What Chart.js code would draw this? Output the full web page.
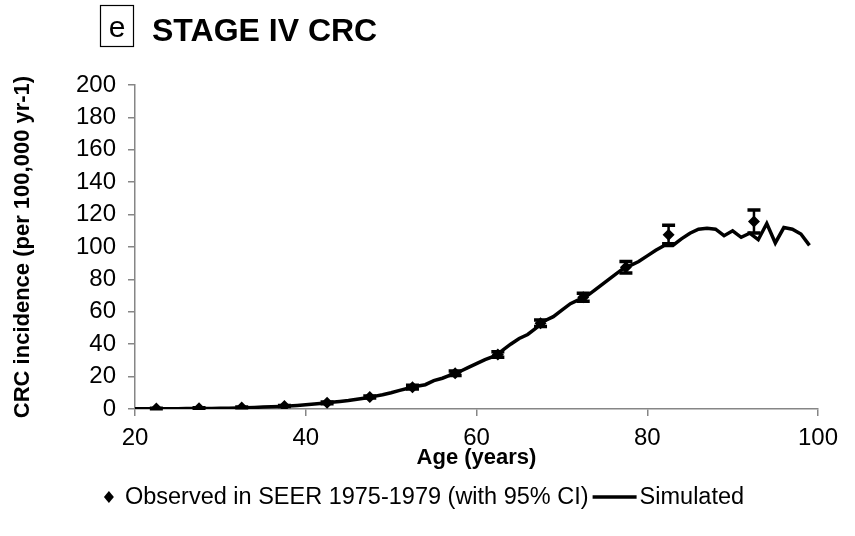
<!DOCTYPE html>
<html>
<head>
<meta charset="utf-8">
<script src="https://cdn.jsdelivr.net/npm/chart.js@4.4.1/dist/chart.umd.min.js"></script>
<style>
  html, body { margin: 0; padding: 0; background: #ffffff; }
  #wrap { width: 855px; height: 536px; position: relative; }
</style>
</head>
<body>
<div id="wrap"><canvas id="c" width="855" height="536"></canvas></div>
<script>
// ---- data ----
const simAges = [20,21,22,23,24,25,26,27,28,29,30,31,32,33,34,35,36,37,38,39,40,41,42,43,44,45,46,47,48,49,50,51,52,53,54,55,56,57,58,59,60,61,62,63,64,65,66,67,68,69,70,71,72,73,74,75,76,77,78,79,80,81,82,83,84,85,86,87,88,89,90,91,92,93,94,95,96,97,98,99];
const simValues = [0.1,0.1,0.1,0.2,0.2,0.2,0.3,0.3,0.3,0.3,0.4,0.5,0.6,0.8,1.0,1.2,1.4,1.6,1.9,2.2,2.6,3.1,3.6,4.1,4.6,5.2,6.0,6.8,7.8,8.8,10,11.5,12.8,14,15,17.5,19,21,23,25.5,28,30.5,32.5,36,40,43.5,46,50,54.5,57,61,65,67.5,70,74,78,82,86,88.5,91,94.5,98,101,101,105,108.5,111,111.5,111,107,110,106,108.5,104.5,114.5,102.5,112,111,108,101];

const obsAges = [22.5,27.5,32.5,37.5,42.5,47.5,52.5,57.5,62.5,67.5,72.5,77.5,82.5,92.5];
const obsValues = [0.3,0.5,1.0,1.8,3.8,7.4,13.5,22,33.6,53,69,87.5,107.5,115.8];
const obsLower = [0.2,0.4,0.8,1.5,3.3,6.8,12.4,20.7,32,51,66.5,84,102,108.6];
const obsUpper = [0.4,0.7,1.2,2.1,4.3,8.1,14.6,23.4,35.3,55,71.5,91,113.5,122.8];

const xTicks = [20,40,60,80,100];
const yTicks = [0,20,40,60,80,100,120,140,160,180,200];

const panelLetter = 'e';
const chartTitle = 'STAGE IV CRC';
const xTitle = 'Age (years)';
const yTitle = 'CRC incidence (per 100,000 yr-1)';
const obsLabel = 'Observed in SEER 1975-1979 (with 95% CI)';
const simLabel = 'Simulated';

// ---- build ----
const FONT = "'Liberation Sans', Arial, Helvetica, sans-serif";
const AXIS_GRAY = '#868686';

const simData = simAges.map((a, i) => ({ x: a, y: simValues[i] }));
const obsData = obsAges.map((a, i) => ({ x: a, y: obsValues[i], lo: obsLower[i], hi: obsUpper[i] }));

const errorBars = {
  id: 'errorBars',
  afterDatasetsDraw(chart) {
    const xs = chart.scales.x, ys = chart.scales.y;
    const ctx = chart.ctx;
    ctx.save();
    ctx.strokeStyle = '#000';
    ctx.lineCap = 'butt';
    obsData.forEach((d) => {
      const px = xs.getPixelForValue(d.x);
      const pLo = ys.getPixelForValue(d.lo);
      const pHi = ys.getPixelForValue(d.hi);
      ctx.lineWidth = 2.5;
      ctx.beginPath();
      ctx.moveTo(px, pLo); ctx.lineTo(px, pHi);
      ctx.stroke();
      ctx.lineWidth = 3.5;
      ctx.beginPath();
      ctx.moveTo(px - 6.5, pLo); ctx.lineTo(px + 6.5, pLo);
      ctx.moveTo(px - 6.5, pHi); ctx.lineTo(px + 6.5, pHi);
      ctx.stroke();
    });
    ctx.restore();
  }
};

const decorations = {
  id: 'decorations',
  afterDraw(chart) {
    const ctx = chart.ctx;
    ctx.save();
    // panel letter box
    ctx.strokeStyle = '#000';
    ctx.lineWidth = 1.2;
    ctx.strokeRect(100.5, 5.5, 33, 41);
    ctx.fillStyle = '#000';
    ctx.font = '30px ' + FONT;
    ctx.textAlign = 'center';
    ctx.textBaseline = 'alphabetic';
    ctx.fillText(panelLetter, 117, 37);
    // title
    ctx.font = 'bold 32px ' + FONT;
    ctx.textAlign = 'left';
    ctx.fillText(chartTitle, 152, 41);

    // legend
    ctx.font = '23.5px ' + FONT;
    const w1 = ctx.measureText(obsLabel).width;
    const w2 = ctx.measureText(simLabel).width;
    const markerW = 12, gap1 = 10, gap2 = 4, lineLen = 44, gap3 = 3;
    const total = markerW + gap1 + w1 + gap2 + lineLen + gap3 + w2;
    let x = (855 - total) / 2 - 4;
    const y = 497;
    // diamond
    const cx = x + markerW / 2;
    ctx.beginPath();
    ctx.moveTo(cx, y - 6); ctx.lineTo(cx + 5, y); ctx.lineTo(cx, y + 6); ctx.lineTo(cx - 5, y);
    ctx.closePath(); ctx.fill();
    x += markerW + gap1;
    ctx.textBaseline = 'middle';
    ctx.fillText(obsLabel, x, y + 1);
    x += w1 + gap2;
    ctx.lineWidth = 3.5;
    ctx.beginPath(); ctx.moveTo(x, y); ctx.lineTo(x + lineLen, y); ctx.stroke();
    x += lineLen + gap3;
    ctx.fillText(simLabel, x, y + 1);
    ctx.restore();
  }
};

new Chart(document.getElementById('c'), {
  type: 'scatter',
  data: {
    datasets: [
      {
        type: 'line',
        label: simLabel,
        data: simData,
        borderColor: '#000',
        borderWidth: 3.5,
        pointRadius: 0,
        tension: 0,
        fill: false,
        order: 2
      },
      {
        type: 'scatter',
        label: obsLabel,
        data: obsData,
        pointStyle: 'rectRot',
        pointRadius: 6,
        backgroundColor: '#000',
        borderColor: '#000',
        borderWidth: 0,
        order: 1
      }
    ]
  },
  options: {
    responsive: false,
    animation: false,
    devicePixelRatio: 1,
    layout: { padding: { left: 0, right: 37, top: 85, bottom: 0 } },
    plugins: { legend: { display: false }, tooltip: { enabled: false }, title: { display: false } },
    scales: {
      x: {
        type: 'linear',
        min: 20, max: 100,
        afterBuildTicks(scale) { scale.ticks = xTicks.map(v => ({ value: v })); },
        afterFit(scale) { scale.height = 536 - 409; },
        grid: { drawOnChartArea: false, drawTicks: true, tickLength: 7, color: AXIS_GRAY, lineWidth: 1.5 },
        border: { display: true, color: AXIS_GRAY, width: 1.5 },
        ticks: { color: '#000', font: { family: FONT, size: 24 }, padding: 8, maxRotation: 0 },
        title: { display: true, text: xTitle, color: '#000', font: { family: FONT, size: 22, weight: 'bold' }, padding: { top: 0, bottom: 65 } }
      },
      y: {
        type: 'linear',
        min: 0, max: 200,
        afterBuildTicks(scale) { scale.ticks = yTicks.map(v => ({ value: v })); },
        afterFit(scale) { scale.width = 135; },
        grid: { drawOnChartArea: false, drawTicks: true, tickLength: 7, color: AXIS_GRAY, lineWidth: 1.5 },
        border: { display: true, color: AXIS_GRAY, width: 1.5 },
        ticks: { color: '#000', font: { family: FONT, size: 24 }, padding: 12 },
        title: { display: true, text: yTitle, color: '#000', font: { family: FONT, size: 22, weight: 'bold' }, padding: { top: 10, bottom: 0 } }
      }
    }
  },
  plugins: [errorBars, decorations]
});
</script>
</body>
</html>
